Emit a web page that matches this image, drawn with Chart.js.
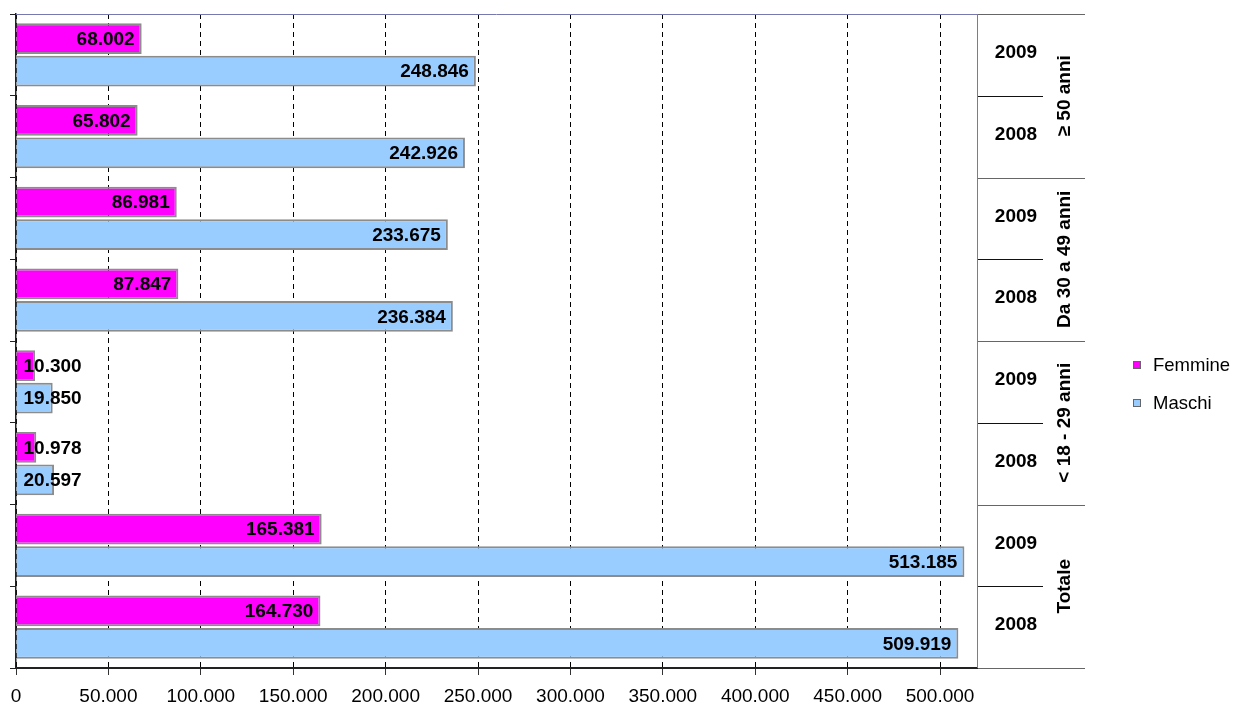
<!DOCTYPE html>
<html>
<head>
<meta charset="utf-8">
<script src="https://cdn.jsdelivr.net/npm/chart.js@4.4.1/dist/chart.umd.min.js"></script>
<style>
  body { margin: 0; background: #fff; }
  #wrap { width: 1237px; height: 707px; position: relative; }
</style>
</head>
<body>
<div id="wrap"><canvas id="grafico"></canvas></div>
<script>
// dati (dall'alto verso il basso)
const anni = ["2009", "2008", "2009", "2008", "2009", "2008", "2009", "2008"];
const gruppi = ["≥ 50 anni", "Da 30 a 49 anni", "< 18 - 29 anni", "Totale"];
const femmine = [68002, 65802, 86981, 87847, 10300, 10978, 165381, 164730];
const maschi = [248846, 242926, 233675, 236384, 19850, 20597, 513185, 509919];
const tickValori = [0, 50000, 100000, 150000, 200000, 250000, 300000, 350000, 400000, 450000, 500000];
const serie = ["Femmine", "Maschi"];
const colori = ["#ff00ff", "#99ccff"];

const FONT = "'Liberation Sans', Arial, sans-serif";

function fmt(n) {
  return String(n).replace(/\B(?=(\d{3})+(?!\d))/g, ".");
}

// etichette dei valori sulle barre
const etichette = {
  id: "etichette",
  afterDatasetsDraw(chart) {
    const ctx = chart.ctx;
    ctx.save();
    ctx.font = "bold 19px " + FONT;
    ctx.fillStyle = "#000";
    ctx.textBaseline = "middle";
    chart.data.datasets.forEach((ds, i) => {
      chart.getDatasetMeta(i).data.forEach((bar, j) => {
        const testo = fmt(ds.data[j]);
        const w = ctx.measureText(testo).width;
        if (bar.x - bar.base > w + 14) {
          ctx.textAlign = "right";
          ctx.fillText(testo, bar.x - 7, bar.y + 1);
        } else {
          ctx.textAlign = "left";
          ctx.fillText(testo, bar.base + 7, bar.y + 1);
        }
      });
    });
    ctx.restore();
  }
};

// tabella delle categorie a destra + legenda
const tabella = {
  id: "tabella",
  afterDraw(chart) {
    const { ctx, chartArea: a, scales: { y } } = chart;
    const passo = (a.bottom - a.top) / anni.length;
    ctx.save();

    ctx.lineWidth = 1;
    ctx.strokeStyle = "#7878b0";
    ctx.beginPath();
    ctx.moveTo(a.left, a.top + 0.5);
    ctx.lineTo(a.right, a.top + 0.5);
    ctx.moveTo(a.right + 0.5, a.top);
    ctx.lineTo(a.right + 0.5, a.bottom);
    ctx.stroke();

    for (let k = 0; k <= anni.length; k++) {
      const yy = Math.round(a.top + k * passo) + 0.5;
      ctx.strokeStyle = k % 2 === 0 ? "#666" : "#111";
      ctx.beginPath();
      ctx.moveTo(a.right + 1, yy);
      ctx.lineTo(a.right + (k % 2 === 0 ? 108 : 66), yy);
      ctx.stroke();
    }

    ctx.fillStyle = "#000";
    ctx.font = "bold 19px " + FONT;
    ctx.textAlign = "center";
    ctx.textBaseline = "middle";
    anni.forEach((t, k) => {
      ctx.fillText(t, a.right + 39, y.getPixelForValue(k) - 2);
    });
    gruppi.forEach((g, k) => {
      const yc = (y.getPixelForValue(2 * k) + y.getPixelForValue(2 * k + 1)) / 2;
      ctx.save();
      ctx.translate(a.right + 88, yc);
      ctx.rotate(-Math.PI / 2);
      ctx.fillText(g, 0, 0);
      ctx.restore();
    });

    // legenda
    ctx.font = "18.5px " + FONT;
    ctx.textAlign = "left";
    serie.forEach((s, i) => {
      const ly = 365 + i * 38;
      ctx.fillStyle = colori[i];
      ctx.fillRect(1133, ly - 4, 8, 8);
      ctx.strokeStyle = "#666";
      ctx.strokeRect(1133.5, ly - 3.5, 7, 7);
      ctx.fillStyle = "#000";
      ctx.fillText(s, 1153, ly + 1);
    });
    ctx.restore();
  }
};

new Chart(document.getElementById("grafico"), {
  type: "bar",
  data: {
    labels: anni,
    datasets: [
      { label: serie[0], data: femmine, backgroundColor: colori[0], borderColor: "#8c8c8c", borderWidth: 2 },
      { label: serie[1], data: maschi, backgroundColor: colori[1], borderColor: "#8c8c8c", borderWidth: 2 }
    ]
  },
  options: {
    indexAxis: "y",
    responsive: true,
    maintainAspectRatio: false,
    animation: false,
    layout: { padding: { left: 10, top: 14, right: 260, bottom: 0 } },
    datasets: { bar: { categoryPercentage: 0.8, barPercentage: 0.94 } },
    plugins: {
      legend: { display: false },
      tooltip: { enabled: false }
    },
    scales: {
      x: {
        min: 0,
        max: 520000,
        afterFit: (s) => { s.height = 39; },
        afterBuildTicks: (s) => { s.ticks = tickValori.map((v) => ({ value: v })); },
        ticks: {
          maxRotation: 0,
          autoSkip: false,
          color: "#000",
          font: { family: FONT, size: 19 },
          padding: 10,
          callback: (v) => fmt(v)
        },
        grid: {
          color: "#000",
          tickBorderDash: [],
          tickColor: "#333",
          tickLength: 7
        },
        border: { color: "#222", width: 2, dash: [5, 4] }
      },
      y: {
        ticks: { display: false },
        grid: { offset: true, drawOnChartArea: false, tickLength: 6, color: "#222" },
        border: { color: "#222", width: 1.5 }
      }
    }
  },
  plugins: [etichette, tabella]
});
</script>
</body>
</html>
